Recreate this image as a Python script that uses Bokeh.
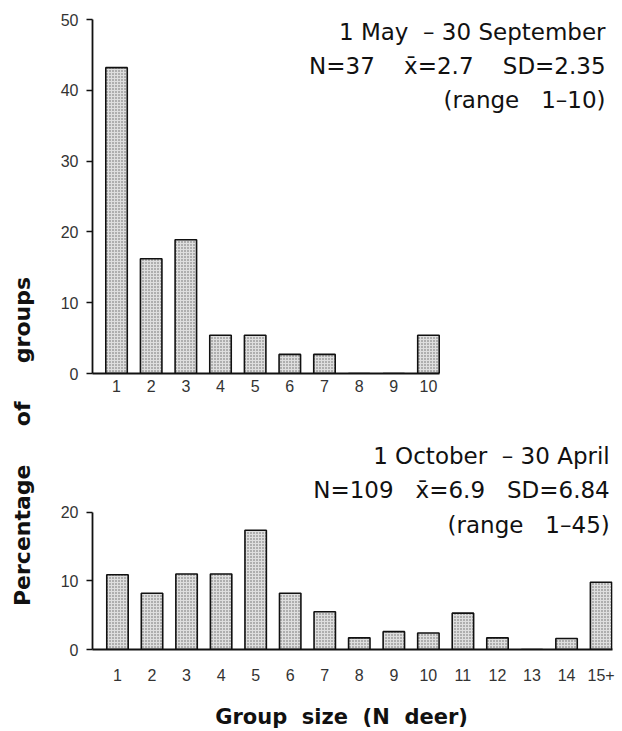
from math import pi
from bokeh.plotting import figure
from bokeh.models import Label, FixedTicker, ColumnDataSource
from bokeh.layouts import row, column
from bokeh.embed import file_html
from bokeh.resources import INLINE

NB = "\u00a0"

# ---- data ----
summer_sizes = [1, 2, 3, 4, 5, 6, 7, 8, 9, 10]
summer_labels = ["1", "2", "3", "4", "5", "6", "7", "8", "9", "10"]
summer_pct = [43.2, 16.2, 18.9, 5.4, 5.4, 2.7, 2.7, 0.0, 0.0, 5.4]
summer_text = ["1 May" + NB * 2 + "\u2013 30 September",
               "N=37" + NB * 4 + "x\u0304=2.7" + NB * 4 + "SD=2.35",
               "(range" + NB * 3 + "1\u201310)"]

winter_sizes = [1, 2, 3, 4, 5, 6, 7, 8, 9, 10, 11, 12, 13, 14, 15]
winter_labels = ["1", "2", "3", "4", "5", "6", "7", "8", "9", "10",
                 "11", "12", "13", "14", "15+"]
winter_pct = [10.9, 8.2, 11.0, 11.0, 17.4, 8.2, 5.5, 1.7, 2.6, 2.4,
              5.3, 1.7, 0.0, 1.6, 9.8]
winter_text = ["1 October" + NB * 2 + "\u2013 30 April",
               "N=109" + NB * 3 + "x\u0304=6.9" + NB * 3 + "SD=6.84",
               "(range" + NB * 3 + "1\u201345)"]

y_label = "Percentage" + NB * 5 + "of" + NB * 5 + "groups"
x_label = "Group" + NB * 2 + "size" + NB * 2 + "(N" + NB * 2 + "deer)"

TICK_FONT = "Liberation Sans"
TEXT_FONT = "DejaVu Sans"


def panel(sizes, labels, pct, yticks, y_end, height, x_range, x_bounds,
          borders, lines, text_x, text_ys, standoff):
    left, right, top, bottom = borders
    p = figure(width=577, height=height, x_range=x_range,
               y_range=(0, y_end), output_backend="svg",
               toolbar_location=None, min_border_left=left,
               min_border_right=right, min_border_top=top,
               min_border_bottom=bottom)
    src = ColumnDataSource(dict(x=sizes, top=pct))
    p.vbar(x="x", top="top", width=0.62, source=src, fill_color="#dedede",
           line_color="#111111", line_width=1.6, hatch_pattern="dot",
           hatch_color="#666666", hatch_scale=3, hatch_weight=1)
    p.xgrid.visible = False
    p.ygrid.visible = False
    p.outline_line_color = None
    for ax in (p.xaxis[0], p.yaxis[0]):
        ax.axis_line_color = "#111111"
        ax.axis_line_width = 1.8
        ax.major_label_text_font = TICK_FONT
        ax.major_label_text_font_size = "16px"
        ax.major_label_text_color = "#333333"
        ax.minor_tick_line_color = None
    p.yaxis.ticker = FixedTicker(ticks=yticks)
    p.yaxis.bounds = (0, yticks[-1])
    p.yaxis.major_tick_out = 6
    p.yaxis.major_tick_in = 0
    p.yaxis.major_tick_line_color = "#111111"
    p.yaxis.major_tick_line_width = 1.5
    p.yaxis.major_label_standoff = 8
    p.xaxis.ticker = FixedTicker(ticks=sizes)
    p.xaxis.bounds = x_bounds
    p.xaxis.major_label_overrides = {s: l for s, l in zip(sizes, labels)}
    p.xaxis.major_tick_out = 0
    p.xaxis.major_tick_in = 0
    p.xaxis.major_label_standoff = standoff
    for t, ty in zip(lines, text_ys):
        p.add_layout(Label(x=text_x, y=ty, text=t, text_align="right",
                           text_baseline="middle", text_font=TEXT_FONT,
                           text_font_size="23px", text_color="#111111"))
    return p


p1 = panel(summer_sizes, summer_labels, summer_pct, [0, 10, 20, 30, 40, 50],
           50, 420, (0.307, 15.31), (0.14, 10.32), (47, 10, 19, 47),
           summer_text, 15.11, [48.3, 43.5, 38.7], 6)

p2 = panel(winter_sizes, winter_labels, winter_pct, [0, 10, 20],
           30.48, 311, (0.277, 15.33), (0.11, 15.33), (47, 10, 20, 77),
           winter_text, 15.25, [28.2, 23.2, 18.1], 19)
p2.xaxis.axis_label = x_label + NB * 3
p2.xaxis.axis_label_text_font = TEXT_FONT
p2.xaxis.axis_label_text_font_style = "bold"
p2.xaxis.axis_label_text_font_size = "21px"
p2.xaxis.axis_label_text_color = "#111111"
p2.xaxis.axis_label_standoff = 21

pl = figure(width=45, height=731, x_range=(0, 45), y_range=(0, 731),
            output_backend="svg", toolbar_location=None, min_border=0)
pl.axis.visible = False
pl.grid.visible = False
pl.outline_line_color = None
pl.add_layout(Label(x=22, y=290, text=y_label, angle=pi / 2,
                    text_align="center", text_baseline="middle",
                    text_font=TEXT_FONT, text_font_style="bold",
                    text_font_size="22px", text_color="#111111"))

layout = row(pl, column(p1, p2))
open("out.html", "w").write(file_html(layout, INLINE))
